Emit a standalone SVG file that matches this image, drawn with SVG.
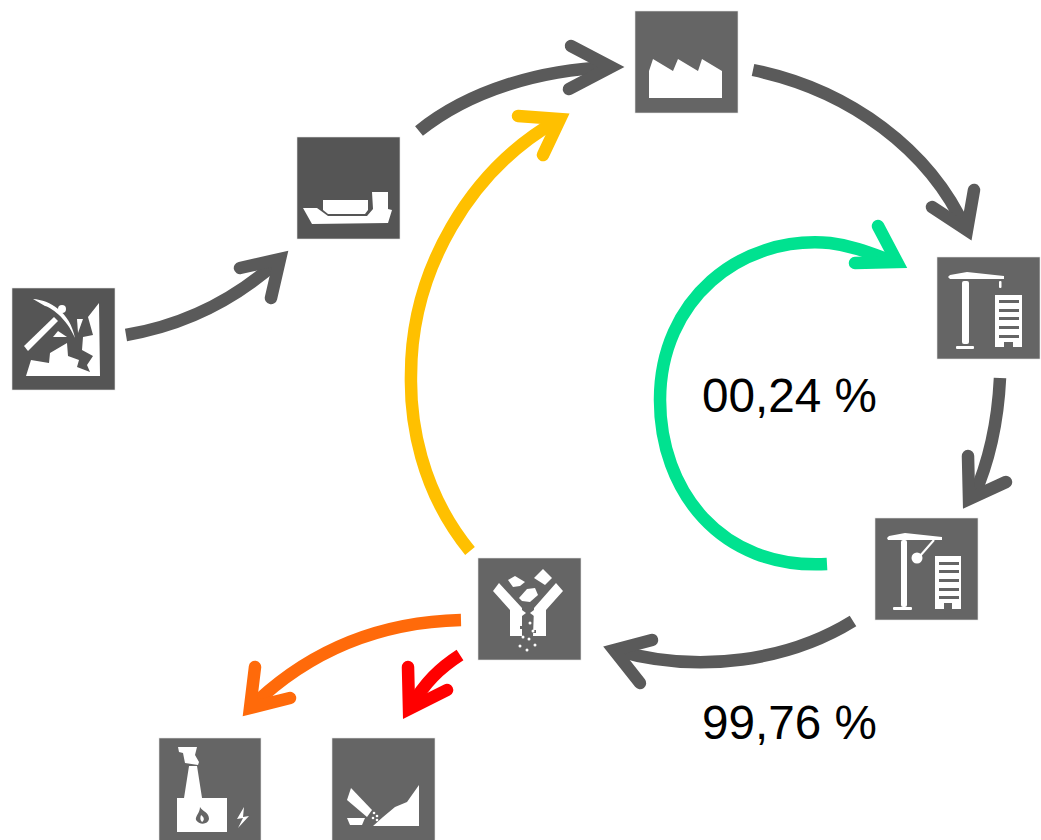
<svg xmlns="http://www.w3.org/2000/svg" width="1041" height="840" viewBox="0 0 1041 840">
<style>
.a{fill:none;stroke-width:12.500;stroke-linejoin:miter;stroke-miterlimit:10}
.h{stroke-linecap:round}
.g{stroke:#5a5a5a}
.bg{fill:#656565;stroke:#e4e4e4;stroke-width:.6}
.dk{fill:#555;stroke:#e4e4e4;stroke-width:.6}
.w{fill:#fff}
.t{font-family:"Liberation Sans",Arial,sans-serif;font-size:47.700px;fill:#000}
</style>
<rect width="1041" height="840" fill="#fff"/>
<g id="connectors">
<g class="a g"><path d="M126,335C185,325 235,300 279,260"/><path class="h" d="M240,268L280,259L271,298"/></g>
<g class="a g"><path d="M419,131C470,90 540,70 610,67"/><path class="h" d="M571,46L611,67L569,89"/></g>
<g class="a g"><path d="M753,70C850,90 930,150 966,230"/><path class="h" d="M974,190L967,230L932,207"/></g>
<g class="a g"><path d="M1000,378C998,420 990,460 973,498"/><path class="h" d="M968,456L969,499L1006,482"/></g>
<g class="a g"><path d="M853,621C790,660 700,675 615,650"/><path class="h" d="M652,640L614,650L640,683"/></g>
<g class="a" stroke="#00e290"><path d="M827,564C720,570 660,490 660,400C660,300 740,235 830,243C855,246 875,255 895,262"/><path class="h" d="M878,226L897,262L855,263"/></g>
<g class="a" stroke="#ffc000"><path d="M470,551C420,490 410,420 411,375C411,270 470,170 558,120"/><path class="h" d="M518,116L560,119L543,155"/></g>
<g class="a" stroke="#ff6a0a"><path d="M461,620C380,622 310,650 252,706"/><path class="h" d="M255,667L250,708L290,698"/></g>
<g class="a" stroke="#ff0000"><path d="M460,655C440,668 425,682 410,708"/><path class="h" d="M408,667L409,709L447,690"/></g>
</g>
<g id="mining">
<rect class="dk" x="12" y="288" width="103" height="102"/>
<path class="w" d="M33,299C50,300 70,312 75,338C66,317 50,307 45,306Z"/>
<path class="w" d="M24,346L54,317L58,321L28,351Z"/>
<circle class="w" cx="62" cy="309" r="4"/>
<path class="w" d="M26,376L31,360L49,363L50,353L67,343L68,356L79,360L77,367L90,372L87,365L93,356L82,350L83,337L93,335L88,317L99,303L100,376Z"/>
<path class="w" d="M77,319L83,319L78,333Z"/>
<path class="w" d="M53,337L58,331L67,337Z"/>
</g>
<g id="ship">
<rect class="dk" x="297" y="137" width="103" height="102"/>
<path class="w" d="M303,208L317,208L328,216L367,216L373,209L372,192L388,192L388,209L392,210L388,223L312,224Z"/>
<path class="w" d="M323,200L368,200L368,210L365,214L328,214L323,210Z"/>
</g>
<g id="factory">
<rect class="bg" x="635" y="11" width="103" height="102"/>
<path class="w" d="M649,98L649,71L653,59L673,71L678,59L698,71L702,59L722,71L722,98Z"/>
</g>
<g id="construction">
<rect class="bg" x="937" y="257" width="103" height="102"/>
<path class="w" d="M948,277L950,275L967,272L1004,276L1004,279L950,279Z"/>
<rect class="w" x="962" y="281" width="7" height="63" rx="2"/>
<rect class="w" x="956" y="346" width="18" height="3" rx="1"/>
<rect class="w" x="999" y="281" width="2.500" height="7" rx="1"/>
<rect class="w" x="995" y="295" width="27" height="52"/>
<g fill="#656565"><rect x="999" y="300" width="20" height="3"/><rect x="999" y="309" width="20" height="3"/><rect x="999" y="317" width="20" height="3"/><rect x="999" y="326" width="20" height="3"/><rect x="999" y="335" width="20" height="3"/><rect x="1004" y="342" width="9" height="5"/></g>
</g>
<g id="demolition">
<rect class="bg" x="875" y="518" width="103" height="102"/>
<path class="w" d="M887,538L889,536L905,533L942,537L942,540L888,540Z"/>
<rect class="w" x="901" y="540" width="6" height="67" rx="2"/>
<rect class="w" x="893" y="607" width="19" height="3" rx="1"/>
<path d="M934,540L920,556" stroke="#fff" stroke-width="2" fill="none"/>
<circle class="w" cx="917" cy="558" r="5.500"/>
<rect class="w" x="935" y="556" width="26" height="53"/>
<g fill="#656565"><rect x="939" y="562" width="20" height="3"/><rect x="939" y="570" width="20" height="3"/><rect x="939" y="579" width="20" height="3"/><rect x="939" y="588" width="20" height="3"/><rect x="939" y="596" width="20" height="3"/><rect x="944" y="603" width="8" height="6"/></g>
</g>
<g id="crusher">
<rect class="bg" x="478" y="558" width="103" height="102"/>
<path class="w" d="M493,591L510,610L510,636L522,636L522,608L499,583Z"/>
<path class="w" d="M563,591L546,610L546,636L533,636L534,608L556,583Z"/>
<path class="w" d="M508,580L515,576L525,582L520,586L513,587Z"/>
<path class="w" d="M534,578L543,569L552,578L545,585Z"/>
<path class="w" d="M519,598L527,589L535,588L538,595L530,602L522,601Z"/>
<path class="w" d="M522,610L526,613L522,616Z"/>
<path class="w" d="M534,610L530,613L534,616Z"/>
<g fill="#656565"><rect x="520" y="626" width="3" height="3"/><rect x="533" y="630" width="3" height="3"/></g>
<g class="w"><circle cx="520" cy="646" r="1.500"/><circle cx="527" cy="650" r="1.500"/><circle cx="535" cy="645" r="1.500"/><circle cx="523" cy="637" r="1.500"/><circle cx="529" cy="639" r="1.500"/><circle cx="533" cy="631" r="1.500"/><circle cx="530" cy="623" r="1.500"/></g>
</g>
<g id="incinerator">
<rect class="bg" x="159" y="738" width="102" height="103"/>
<path class="w" d="M178,747L197,747L195,755L199,762L198,765L185,763L183,753L179,752Z"/>
<path class="w" d="M189,766L197,766L202,798L184,798Z"/>
<rect class="w" x="177" y="798" width="50" height="34"/>
<path fill="#656565" d="M200,807C203,812 209,812 209,819C208,825 199,825 196,820C195,816 200,813 200,807Z"/>
<path class="w" d="M201,815C204,817 205,820 202,822C200,820 200,818 201,815Z"/>
<path class="w" d="M244,807L237,819L243,818L238,828L249,816L243,817Z"/>
</g>
<g id="landfill">
<rect class="bg" x="332" y="738" width="103" height="103"/>
<path class="w" d="M351,788L372,810L367,817L347,800Z"/>
<path class="w" d="M347,818L365,818L362,825L350,825Z"/>
<path class="w" d="M373,826L383,817L395,807L407,802L419,785L419,826Z"/>
<g class="w"><circle cx="374" cy="813" r="1.300"/><circle cx="377" cy="816" r="1.300"/><circle cx="373" cy="818" r="1.300"/><circle cx="377" cy="820" r="1.300"/></g>
</g>
<text class="t" x="702" y="412">00,24 %</text>
<text class="t" x="702" y="739">99,76 %</text>
</svg>
